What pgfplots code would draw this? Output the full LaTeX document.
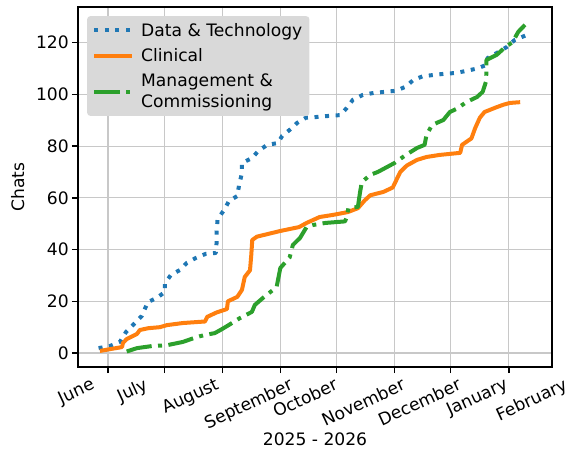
\documentclass[border=0pt]{standalone}
\usepackage{fontspec}
\setmainfont{DejaVu Sans}
\usepackage{graphicx}
\usepackage{pgfplots}
\pgfplotsset{compat=1.18}
\definecolor{tabblue}{HTML}{1F77B4}
\definecolor{taborange}{HTML}{FF7F0E}
\definecolor{tabgreen}{HTML}{2CA02C}
\definecolor{legfill}{HTML}{D9D9D9}
\definecolor{gridc}{HTML}{C8C8C8}
\newcommand{\ff}{\fontsize{17.2}{20.5}\selectfont}
\newcommand{\rl}[1]{\rotatebox{25}{#1}}
\begin{document}
\begin{tikzpicture}
\begin{axis}[
  at={(0,0)}, anchor=south west,
  scale only axis, width=474bp, height=360bp,
  xmin=-16, xmax=237, ymin=-5.4, ymax=133.8,
  clip=false,
  axis line style={line width=2bp},
  xtick={0,30,61,92,122,153,183,214},
  xticklabels={\rl{June},\rl{July},\rl{August},\rl{September},\rl{October},\rl{November},\rl{December},\rl{January}},
  ytick={0,20,40,60,80,100,120},
  tick align=outside, tick pos=left,
  major tick length=6bp,
  every tick/.style={black, line width=1.3bp},
  grid=major, major grid style={gridc, line width=1.1bp},
  /pgf/number format/assume math mode=true,
  tick label style={font=\ff},
  xticklabel style={anchor=north, inner sep=0pt, xshift=-31.5bp, yshift=-4bp},
  yticklabel style={inner sep=3bp},
  xlabel={2025 - 2026}, ylabel={Chats},
  label style={font=\ff},
  xlabel style={at={(axis description cs:0.5,-0.2)}, anchor=center},
  ylabel style={at={(axis description cs:-0.127,0.5)}, anchor=center},
  legend style={at={(axis description cs:0.019,0.975)}, anchor=north west,
    fill=legfill, draw=none, rounded corners=3bp, font=\ff,
    cells={anchor=west, align=left}, row sep=7bp, inner xsep=5bp, inner ysep=5bp},
  legend cell align=left,
  legend image code/.code={\draw[#1] (0bp,0bp) -- (38bp,0bp); \path (43bp,0bp);},
]
\addplot[tabblue, line width=4bp, dash pattern=on 4bp off 6.6bp, line join=round] coordinates {
(-5,1.9) (1,2.7) (6.4,4.3) (9.6,8.1) (13.3,10.8) (18,14.3) (21.3,19.7) (26,21.3)
(30.4,23.6) (30.4,27) (33.6,30.2) (38.4,32.1) (42,34.8) (47,36.8) (52,38.3) (57.6,38.7)
(58,43) (58,46.8) (58.5,51.8) (62,55.3) (64.6,58.8) (69,60.7) (70,65) (71.5,69.6)
(71.5,73.5) (77,75.4) (80,78) (85,80.5) (90.7,81.2) (93,84) (97,86.3) (101,89)
(105.7,91) (112,91.3) (118,91.7) (124,92) (127.5,94.8) (130.7,97.9) (136,99.8)
(142,100.6) (148,101) (153.7,101.4) (159,103) (163,105.6) (168,107) (173.5,107.5)
(180,108) (186,108.3) (190.5,109) (197,110) (202,111.4) (202.5,114) (207.5,116)
(213,118.4) (217,121) (223.6,123)
};
\addlegendentry{Data \& Technology}
\addplot[taborange, line width=4bp, line join=round] coordinates {
(-4.3,0.8) (1,1.5) (7.5,2.3) (8,3.9) (10,5.4) (15.5,7.4) (17,8.9) (21.5,9.6)
(27.7,10) (31.5,10.8) (40,11.6) (51.8,12.2) (53,14) (58,15.7) (63.5,17) (64,20)
(69,21.7) (71.5,24.4) (73,29.4) (75.8,32) (76.5,38) (77,43.7) (79.5,45) (92,47.2)
(102,48.7) (106,50.3) (113,52.6) (120,53.4) (128,54.5) (133.4,56) (137,59) (140,61)
(147,62.3) (152,64) (154,67) (156,70) (159.5,72.5) (165,74.7) (170,75.8) (177,76.6)
(188,77.4) (189,80.5) (194,83) (196,87) (198.5,91) (201,93.2) (206.5,94.8) (211,96)
(214.5,96.7) (220,97)
};
\addlegendentry{Clinical}
\addplot[tabgreen, line width=4bp, dash pattern=on 25.6bp off 6.4bp on 4bp off 6.4bp, line join=round] coordinates {
(10,0.6) (15.5,1.9) (23.5,2.7) (29,2.9) (32,3.1) (40,4.3) (47.5,6.2) (51.8,7)
(57,7.7) (60,8.9) (63.5,10.4) (70.4,13.5) (76.8,15.9) (78.4,18.6) (82.7,21.3) (90,25.5)
(92,32.9) (97,37) (98.7,41.8) (102.5,44.5) (106,48.7) (109.4,49.5) (116,50.3)
(126.5,50.9) (127.5,52.6) (128.3,56) (133.4,56.5) (134.5,62) (135.5,66.1) (140,68.9)
(144,70) (153,73.5) (159,76.6) (165,79.3) (169,80.5) (170,84.3) (173,88.2) (179,90.1)
(182.5,93.2) (186,94.4) (191.5,97.1) (197,99) (200,101) (201.7,104.8) (202,108.7)
(202,113.3) (207.5,115.3) (211,117.6) (216,120.3) (219,124.2) (222.6,126.9)
};
\addlegendentry{Management \&\\Commissioning}
\node[anchor=north, inner sep=0pt, font=\ff, xshift=-35bp, yshift=-10bp] at (axis cs:245,-5.4) {\rl{February}};
\end{axis}
\pgfresetboundingbox
\path[use as bounding box] (-78bp,-83bp) rectangle (493bp,367bp);
\end{tikzpicture}
\end{document}
